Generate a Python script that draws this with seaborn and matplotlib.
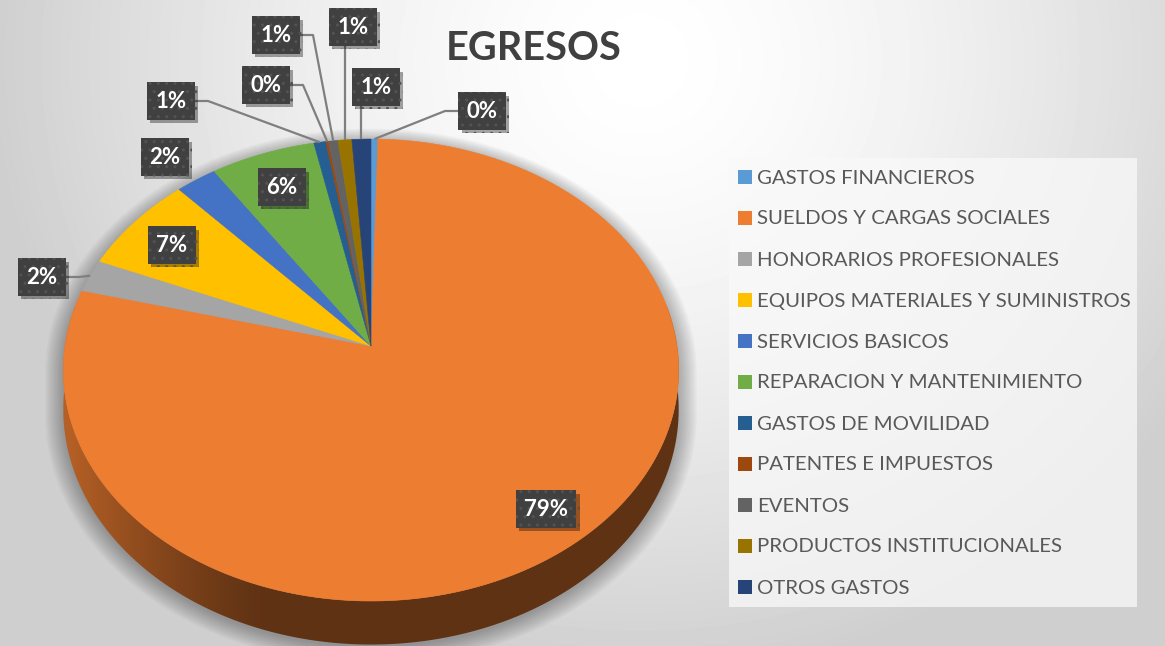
import numpy as np
import matplotlib
matplotlib.use("Agg")
import matplotlib.pyplot as plt
import matplotlib.patheffects as pe
from matplotlib.patches import Polygon, Rectangle
from matplotlib.colors import to_rgb
import seaborn as sns

# ---------------- data ----------------
categories = ["GASTOS FINANCIEROS", "SUELDOS Y CARGAS SOCIALES", "HONORARIOS PROFESIONALES",
              "EQUIPOS MATERIALES Y SUMINISTROS", "SERVICIOS BASICOS", "REPARACION Y MANTENIMIENTO",
              "GASTOS DE MOVILIDAD", "PATENTES E IMPUESTOS", "EVENTOS",
              "PRODUCTOS INSTITUCIONALES", "OTROS GASTOS"]
values = [0.4, 78.6, 2.3, 6.9, 2.4, 6.1, 0.7, 0.15, 0.55, 0.8, 1.1]
colors = ["#5B9BD5", "#ED7D31", "#A5A5A5", "#FFC000", "#4472C4", "#70AD47",
          "#255E91", "#9E480E", "#636363", "#997300", "#264478"]
title = "EGRESOS"

# ---------------- layout (pixels) ----------------
W, H = 1165, 646
CX, CY = 371, 346            # apex of the pie on screen
A, B, K = 306, 228.5, 0.104  # half-axes and perspective factor
DEPTH = 39
# label centre x, y and leader side
label_layout = [(482, 111, "left"), (546, 509, None), (42, 277, "right"), (172, 245, None),
                (165, 157, None), (282, 187, None), (171, 101, "right"), (266, 85, "right"),
                (276, 35, "right"), (353, 27, "bottom"), (376, 87, "bottom")]

sns.set_theme(style="white")
plt.rcParams["font.family"] = ["Lato", "DejaVu Sans"]

fig = plt.figure(figsize=(W / 100, H / 100), dpi=100)
ax = fig.add_axes([0, 0, 1, 1])
ax.set_xlim(0, W)
ax.set_ylim(H, 0)
ax.axis("off")

# background radial gradient
yy, xx = np.mgrid[0:H, 0:W]
r = np.hypot(xx - 640, (yy - 60) * 1.05)
bg = 1 - 0.19 * np.clip(r / 650, 0, 1) ** 1.5
ax.imshow(bg, extent=(0, W, H, 0), cmap="gray", vmin=0, vmax=1, zorder=0, aspect="auto")


def proj(theta, depth=0.0):
    th = np.radians(theta)
    u, v = np.sin(th), np.cos(th)
    s = 1.0 / (1.0 + K * v)
    return CX + A * u * s, CY - B * v * s + depth * s


total = float(sum(values))
bounds = np.concatenate([[0], np.cumsum(values)]) / total * 360.0

# soft shadow of the whole pie
sil_t = np.linspace(264, 456, 200)
sil_b = np.linspace(96, 264, 200)
sx = np.concatenate([proj(sil_t)[0], proj(sil_b, DEPTH)[0]])
sy = np.concatenate([proj(sil_t)[1], proj(sil_b, DEPTH)[1]])
for i in range(10):
    s = 1 + 0.0065 * i
    px = CX + (sx - CX) * s
    py = CY + 20 + (sy - CY - 20) * s + 3
    ax.add_patch(Polygon(np.column_stack([px, py]), closed=True, fc="black", ec="none",
                         alpha=0.03, zorder=1))

# side wall (front part only): gradient image clipped to each slice's wall
shade = 0.40 + 0.36 * np.clip((270 - np.arange(W)) / 200, 0, 1) ** 1.3
for t1, t2, c in zip(bounds[:-1], bounds[1:], colors):
    a1, a2 = max(t1, 80), min(t2, 280)
    if a2 <= a1:
        continue
    ts = np.linspace(a1, a2, int((a2 - a1) * 3) + 2)
    xt, yt = proj(ts)
    xb, yb = proj(ts[::-1], DEPTH)
    wall = Polygon(np.column_stack([np.concatenate([xt, xb]), np.concatenate([yt, yb])]),
                   closed=True, fc="none", ec="none")
    ax.add_patch(wall)
    img = np.broadcast_to((np.array(to_rgb(c))[None, :] * shade[:, None])[None, :, :], (H, W, 3))
    im = ax.imshow(img, extent=(0, W, H, 0), zorder=2, aspect="auto", interpolation="nearest")
    im.set_clip_path(wall)

# top face wedges
for t1, t2, c in zip(bounds[:-1], bounds[1:], colors):
    ts = np.linspace(t1, t2, int((t2 - t1) * 2) + 2)
    x, y = proj(ts)
    pts = np.column_stack([np.concatenate([[CX], x]), np.concatenate([[CY], y])])
    ax.add_patch(Polygon(pts, closed=True, fc=c, ec=c, lw=0.4, zorder=3))

# data labels with leaders
for (t1, t2), (lx, ly, side), v in zip(zip(bounds[:-1], bounds[1:]), label_layout, values):
    txt = f"{round(v / total * 100):.0f}%"
    if side is not None:
        rx, ry = proj((t1 + t2) / 2)
        if side == "left":
            xs, ys = [rx, lx - 37, lx], [ry, ly, ly]
        elif side == "right":
            xs, ys = [rx, lx + 37, lx], [ry, ly, ly]
        else:
            xs, ys = [rx, rx], [ry, ly]
        ax.plot(xs, ys, color="#7f7f7f", lw=1.6, zorder=4, solid_capstyle="butt")
    t = ax.text(lx, ly, txt, ha="center", va="center", color="white", fontsize=16,
                fontweight="bold", zorder=6,
                bbox=dict(boxstyle="square,pad=0.38", fc="#404040", ec="#535353", lw=0,
                          hatch=".."))
    t.get_bbox_patch().set_path_effects([
        pe.withSimplePatchShadow(offset=(2.5, -2.5), shadow_rgbFace="black", alpha=0.35),
        pe.Normal()])

# title
ax.text(534, 48, title, ha="center", va="center", fontsize=28.5, fontweight="bold",
        color="#404040", zorder=6)

# legend
ax.add_patch(Rectangle((729, 158), 408, 449, fc="#f9f9f9", ec="none", alpha=0.75, zorder=5))
for i, (name, c) in enumerate(zip(categories, colors)):
    y = 177 + i * 41
    ax.add_patch(Rectangle((738, y - 7), 14, 14, fc=c, ec="none", zorder=6))
    ax.text(757, y + 1, name, ha="left", va="center", fontsize=14.7, color="#595959", zorder=6)

fig.savefig("out.png", dpi=100)
